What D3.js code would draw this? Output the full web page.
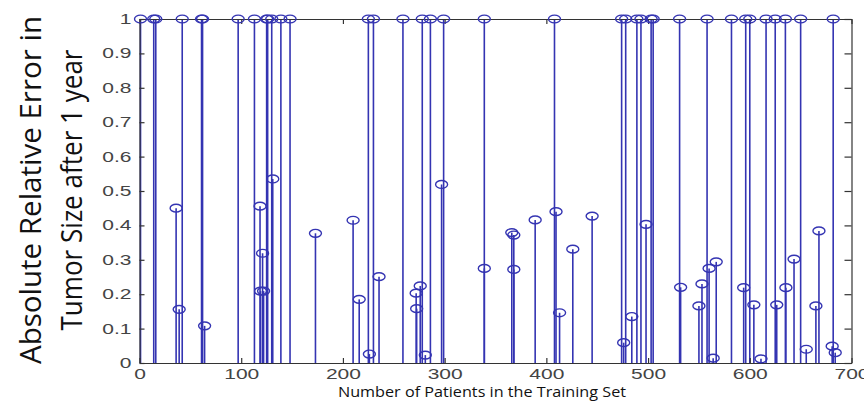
<!DOCTYPE html>
<html>
<head>
<meta charset="utf-8">
<script src="https://cdn.jsdelivr.net/npm/d3@7"></script>
<style>
  html, body { margin: 0; padding: 0; background: #fff; }
  svg { display: block; }
</style>
</head>
<body>
<svg id="chart" width="864" height="403"></svg>
<script>
// ---- data ----
const patientsAtOne = [1, 14, 16, 42, 61, 62, 97, 113, 125, 126, 130, 139, 148,
  225, 230, 259, 278, 286, 299, 339, 408, 474, 478, 489, 493, 503, 505, 531,
  558, 582, 596, 600, 616, 625, 635, 650, 682];
const patientsBelow = [36, 39, 64, 118.5, 119, 121, 122, 131, 173, 210, 216, 226,
  235.5, 272, 272.5, 276, 281, 297, 339, 366, 368, 368, 389, 409.5, 413, 426, 445,
  476, 484, 498, 532, 550, 553, 560, 564, 567, 594, 604, 611, 626.5, 635.5, 643.5,
  655.5, 665, 668, 681, 684];
const errorsBelow = [0.45, 0.156, 0.108, 0.456, 0.209, 0.319, 0.209, 0.535, 0.377, 0.415, 0.185, 0.026,
  0.251, 0.203, 0.158, 0.224, 0.023, 0.519, 0.275, 0.379, 0.372, 0.272, 0.416, 0.44, 0.146, 0.331, 0.427,
  0.059, 0.135, 0.403, 0.22, 0.166, 0.23, 0.275, 0.014, 0.294, 0.219, 0.169, 0.012, 0.169, 0.219, 0.302,
  0.04, 0.166, 0.384, 0.049, 0.03];
const xTicks = [0, 100, 200, 300, 400, 500, 600, 700];
const yTicks = [0, 0.1, 0.2, 0.3, 0.4, 0.5, 0.6, 0.7, 0.8, 0.9, 1];
const xTitle = "Number of Patients in the Training Set";
const yTitleLines = ["Absolute Relative Error in", "Tumor Size after 1 year"];

const points = patientsAtOne.map(p => ({p, e: 1}))
  .concat(patientsBelow.map((p, i) => ({p, e: errorsBelow[i]})));

// ---- layout ----
const svg = d3.select("#chart");
const L = 139.5, R = 851.5, T = 19, B = 363;
const x = d3.scaleLinear().domain([0, 700]).range([L, R]);
const y = d3.scaleLinear().domain([0, 1]).range([B, T]);
const stemColor = "#3434b2";
const tickFont = "Liberation Sans, Arial, sans-serif";
const stretch = 1.5;

// stems
svg.append("g").selectAll("line").data(points).join("line")
  .attr("x1", d => x(d.p)).attr("x2", d => x(d.p))
  .attr("y1", y(0)).attr("y2", d => y(d.e))
  .attr("stroke", stemColor).attr("stroke-width", 1.6);

// axes box
const axisColor = "#333";
function styleAxis(g) {
  g.select(".domain").attr("stroke", axisColor).attr("stroke-width", 1.2);
  g.selectAll(".tick line").attr("stroke", axisColor).attr("stroke-width", 1.2);
  g.selectAll("text").attr("fill", "#444").style("font-family", tickFont).style("font-size", "14px");
}
const gx = svg.append("g").attr("transform", `translate(0,${B})`)
  .call(d3.axisBottom(x).tickValues(xTicks).tickSize(-5).tickSizeOuter(0).tickFormat(d3.format("d")));
styleAxis(gx);
gx.selectAll("text").attr("y", 6).attr("dy", "0.71em").attr("transform", `scale(${stretch},1)`);

const gxt = svg.append("g").attr("transform", `translate(0,${T})`)
  .call(d3.axisTop(x).tickValues(xTicks).tickSize(-5).tickSizeOuter(0).tickFormat(""));
styleAxis(gxt);

const fmtY = d => d === 0 ? "0" : d === 1 ? "1" : d3.format(".1f")(d);
const gy = svg.append("g").attr("transform", `translate(${L},0)`)
  .call(d3.axisLeft(y).tickValues(yTicks).tickSize(-5).tickSizeOuter(0).tickFormat(fmtY));
styleAxis(gy);
gy.selectAll("text").attr("x", -8 / stretch).attr("transform", `scale(${stretch},1)`);

const gyr = svg.append("g").attr("transform", `translate(${R},0)`)
  .call(d3.axisRight(y).tickValues(yTicks).tickSize(-7).tickSizeOuter(0).tickFormat(""));
styleAxis(gyr);

// markers
svg.append("g").selectAll("ellipse").data(points).join("ellipse")
  .attr("cx", d => x(d.p)).attr("cy", d => y(d.e))
  .attr("rx", 6).attr("ry", 3.9)
  .attr("fill", "none").attr("stroke", stemColor).attr("stroke-width", 1.4);

// titles
svg.append("text")
  .attr("x", 482).attr("y", 397)
  .attr("text-anchor", "middle")
  .attr("textLength", 288).attr("lengthAdjust", "spacingAndGlyphs")
  .style("font-family", "Open Sans, sans-serif").style("font-size", "14px")
  .attr("fill", "#111")
  .text(xTitle);

const yTitleX = [41, 82];
const yTitleLen = [348, 281];
yTitleLines.forEach((t, i) => {
  svg.append("text")
    .attr("transform", `translate(${yTitleX[i]},190) scale(1.2,1) rotate(-90)`)
    .attr("text-anchor", "middle")
    .attr("textLength", yTitleLen[i]).attr("lengthAdjust", "spacingAndGlyphs")
    .style("font-family", "Open Sans, sans-serif").style("font-size", "25px")
    .attr("fill", "#111")
    .text(t);
});
</script>
</body>
</html>
